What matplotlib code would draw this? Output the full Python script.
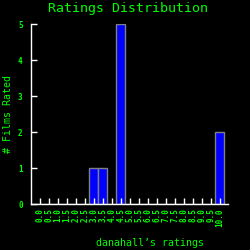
import matplotlib
matplotlib.use("Agg")
import matplotlib.pyplot as plt
import numpy as np

# rating buckets and film counts
ratings = ["0.0", "0.5", "1.0", "1.5", "2.0", "2.5", "3.0", "3.5", "4.0", "4.5",
           "5.0", "5.5", "6.0", "6.5", "7.0", "7.5", "8.0", "8.5", "9.0", "9.5", "10.0"]
counts = [0, 0, 0, 0, 0, 0, 1, 1, 0, 5,
          0, 0, 0, 0, 0, 0, 0, 0, 0, 0, 2]
yticks = [0, 1, 2, 3, 4, 5]

GREEN = "#00ff00"
plt.rcParams['font.family'] = ['DejaVu Sans Mono']

fig = plt.figure(figsize=(2.5, 2.5), dpi=100, facecolor="black")
ax = fig.add_axes([0.124, 0.184, 0.788, 0.72], facecolor="black")

x = np.arange(len(ratings))
ax.bar(x, counts, width=1.0, color="#0000ff", edgecolor="#808080", linewidth=1)

ax.set_xlim(-1, 20.9)
ax.set_ylim(0, 5)
ax.set_xticks(x)
ax.set_xticklabels(ratings, rotation=90, fontsize=5.5, color=GREEN, fontweight="bold")
ax.set_yticks(yticks)
ax.set_yticklabels([str(v) for v in yticks], fontsize=5.5, color=GREEN, fontweight="bold")
ax.tick_params(axis="both", direction="in", color="white", length=4, width=1)
ax.tick_params(axis="x", pad=3)
ax.tick_params(axis="y", pad=6)

for s in ["top", "right"]:
    ax.spines[s].set_visible(False)
for s in ["left", "bottom"]:
    ax.spines[s].set_color("white")
    ax.spines[s].set_linewidth(1)

fig.text(0.512, 0.967, "Ratings Distribution", color=GREEN, fontsize=9.5,
         ha="center", va="center")
fig.text(0.6, 0.028, "danahall\u2019s ratings", color=GREEN, fontsize=7.1,
         ha="center", va="center")
fig.text(0.034, 0.544, "# Films Rated", color=GREEN, fontsize=7.1,
         ha="center", va="center", rotation=90)

fig.savefig("out.png", dpi=100, facecolor="black")
